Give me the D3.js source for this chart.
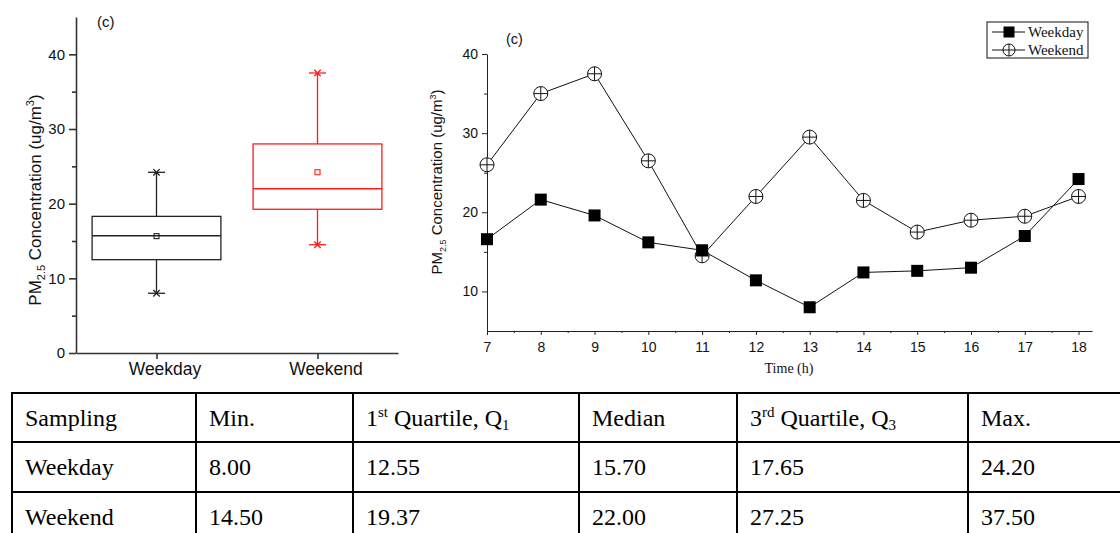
<!DOCTYPE html>
<html>
<head>
<meta charset="utf-8">
<script src="https://cdn.jsdelivr.net/npm/d3@7"></script>
<style>
  body { margin: 0; background: #fff; }
  svg { display: block; }
</style>
</head>
<body>
<svg id="fig" width="1120" height="533"></svg>
<script>
// Hourly PM2.5 concentration (ug/m3), 07:00 to 18:00
const hours = [7, 8, 9, 10, 11, 12, 13, 14, 15, 16, 17, 18];
const weekdayPM = [16.6, 21.6, 19.6, 16.2, 15.2, 11.4, 8.0, 12.4, 12.6, 13.0, 17.0, 24.2];
const weekendPM = [26.0, 35.0, 37.5, 26.5, 14.5, 22.0, 29.5, 21.5, 17.5, 19.0, 19.5, 22.0];

const groups = ["Weekday", "Weekend"];
const boxMajorTicks = [0, 10, 20, 30, 40];
const boxMinorTicks = [5, 15, 25, 35];
const lineMajorYTicks = [10, 20, 30, 40];
const lineMinorYTicks = [15, 25, 35];
const lineMajorXTicks = [7, 8, 9, 10, 11, 12, 13, 14, 15, 16, 17, 18];
const lineMinorXTicks = [7.5, 8.5, 9.5, 10.5, 11.5, 12.5, 13.5, 14.5, 15.5, 16.5, 17.5];

// Summary table: header cells as [text, role] runs, then the two rows
const tableHeader = [
  [["Sampling", ""]],
  [["Min.", ""]],
  [["1", ""], ["st", "sup"], [" Quartile, Q", ""], ["1", "sub"]],
  [["Median", ""]],
  [["3", ""], ["rd", "sup"], [" Quartile, Q", ""], ["3", "sub"]],
  [["Max.", ""]]
];
const tableWeekday = ["Weekday", "8.00", "12.55", "15.70", "17.65", "24.20"];
const tableWeekend = ["Weekend", "14.50", "19.37", "22.00", "27.25", "37.50"];

const svg = d3.select("#fig");
svg.append("rect").attr("width", 1120).attr("height", 533).attr("fill", "#fff");

const SANS = "'Liberation Sans', Arial, sans-serif";
const NARROW = "'Liberation Sans Narrow', 'Arial Narrow', 'Liberation Sans', Arial, sans-serif";
const SERIF = "'Liberation Serif', 'Times New Roman', serif";

function styleAxis(g, family, size, color, width) {
  g.attr("font-family", family).attr("font-size", size);
  g.selectAll("path.domain").attr("stroke", color).attr("stroke-width", width);
  g.selectAll(".tick line").attr("stroke", color).attr("stroke-width", width);
  g.selectAll(".tick text").attr("fill", "#111");
}

// PM2.5 axis title with subscript and superscript runs
function pmLabel(parent, x, y, size) {
  const t = parent.append("text")
    .attr("transform", `translate(${x},${y}) rotate(-90)`)
    .attr("text-anchor", "middle")
    .attr("font-family", SANS)
    .attr("font-size", size)
    .attr("fill", "#111");
  const small = Math.round(size * 0.62);
  t.append("tspan").text("PM");
  t.append("tspan").attr("font-size", small).attr("dy", size * 0.25).text("2.5");
  t.append("tspan").attr("dy", -size * 0.25).text(" Concentration (ug/m");
  t.append("tspan").attr("font-size", small).attr("dy", -size * 0.42).text("3");
  t.append("tspan").attr("dy", size * 0.42).text(")");
  return t;
}

/* ---------------- Box plot ---------------- */
const bp = svg.append("g");
const bx = d3.scalePoint().domain(groups).range([76, 398]).padding(0.5);
const by = d3.scaleLinear().domain([0, 45]).range([353, 17]);

const yAxisBox = bp.append("g").attr("transform", "translate(76,0)")
  .call(d3.axisLeft(by).tickValues(boxMajorTicks).tickSize(7).tickSizeOuter(0).tickPadding(4));
styleAxis(yAxisBox, SANS, 15, "#333", 1.6);
const yMinorBox = bp.append("g").attr("transform", "translate(76,0)")
  .call(d3.axisLeft(by).tickValues(boxMinorTicks).tickSize(4).tickFormat(""));
yMinorBox.select("path.domain").remove();
styleAxis(yMinorBox, SANS, 15, "#333", 1.6);

const xAxisBox = bp.append("g").attr("transform", "translate(0,353)")
  .call(d3.axisBottom(bx).tickSize(6).tickSizeOuter(0).tickPadding(4));
styleAxis(xAxisBox, SANS, 17.5, "#333", 1.6);
xAxisBox.selectAll(".tick text").attr("dx", 8);

pmLabel(bp, 41, 200, 17);
bp.append("text").attr("x", 97).attr("y", 27)
  .attr("font-family", SANS).attr("font-size", 15).attr("fill", "#111").text("(c)");

const seriesByGroup = { Weekday: weekdayPM, Weekend: weekendPM };
const groupColor = { Weekday: "#222", Weekend: "#ff1a1a" };

function boxStats(values) {
  const s = values.slice().sort(d3.ascending);
  const h = s.length >> 1;
  return {
    min: s[0],
    q1: d3.median(s.slice(0, h)),
    median: d3.median(s),
    q3: d3.median(s.slice(s.length - h)),
    max: s[s.length - 1],
    mean: d3.mean(s)
  };
}

groups.forEach(name => {
  const st = boxStats(seriesByGroup[name]);
  const cx = bx(name);
  const w = bx.step() * 0.8;
  const g = bp.append("g")
    .attr("stroke", groupColor[name]).attr("fill", "none").attr("stroke-width", 1.3);

  g.append("line").attr("x1", cx).attr("x2", cx).attr("y1", by(st.q3)).attr("y2", by(st.max));
  g.append("line").attr("x1", cx).attr("x2", cx).attr("y1", by(st.q1)).attr("y2", by(st.min));
  [st.min, st.max].forEach(v => {
    g.append("line").attr("x1", cx - 8.5).attr("x2", cx + 8.5).attr("y1", by(v)).attr("y2", by(v));
    const yy = by(v), a = 3.2;
    g.append("path").attr("d", `M${cx - a},${yy - a}L${cx + a},${yy + a}M${cx - a},${yy + a}L${cx + a},${yy - a}`);
  });
  g.append("rect")
    .attr("x", cx - w / 2).attr("width", w)
    .attr("y", by(st.q3)).attr("height", by(st.q1) - by(st.q3));
  g.append("line").attr("x1", cx - w / 2).attr("x2", cx + w / 2)
    .attr("y1", by(st.median)).attr("y2", by(st.median));
  g.append("rect").attr("x", cx - 2.5).attr("y", by(st.mean) - 2.5)
    .attr("width", 5).attr("height", 5).attr("stroke-width", 1.1);
});

/* ---------------- Hourly line chart ---------------- */
const lc = svg.append("g");
const lx = d3.scaleLinear().domain([7, 18.25]).range([487, 1092]);
const ly = d3.scaleLinear().domain([5, 40]).range([331, 54]);

const yAxisLine = lc.append("g").attr("transform", "translate(487,0)")
  .call(d3.axisLeft(ly).tickValues(lineMajorYTicks).tickSize(5).tickSizeOuter(0).tickPadding(4));
styleAxis(yAxisLine, NARROW, 14, "#222", 1);
const yMinorLine = lc.append("g").attr("transform", "translate(487,0)")
  .call(d3.axisLeft(ly).tickValues(lineMinorYTicks).tickSize(3).tickFormat(""));
yMinorLine.select("path.domain").remove();
styleAxis(yMinorLine, NARROW, 14, "#222", 1);

const xAxisLine = lc.append("g").attr("transform", "translate(0,331)")
  .call(d3.axisBottom(lx).tickValues(lineMajorXTicks).tickFormat(d3.format("d"))
    .tickSize(4).tickSizeOuter(0).tickPadding(7));
styleAxis(xAxisLine, NARROW, 14, "#222", 1);
const xMinorLine = lc.append("g").attr("transform", "translate(0,331)")
  .call(d3.axisBottom(lx).tickValues(lineMinorXTicks).tickSize(2).tickFormat(""));
xMinorLine.select("path.domain").remove();
styleAxis(xMinorLine, NARROW, 14, "#222", 1);

pmLabel(lc, 442, 182, 15);
lc.append("text").attr("x", 789).attr("y", 373).attr("text-anchor", "middle")
  .attr("font-family", SERIF).attr("font-size", 14).attr("fill", "#111").text("Time (h)");
lc.append("text").attr("x", 506).attr("y", 44)
  .attr("font-family", SANS).attr("font-size", 14.5).attr("fill", "#111").text("(c)");

const line = d3.line().x(d => lx(d[0])).y(d => ly(d[1]));
const weekdayPts = d3.zip(hours, weekdayPM);
const weekendPts = d3.zip(hours, weekendPM);

lc.append("path").datum(weekendPts).attr("d", line)
  .attr("fill", "none").attr("stroke", "#111").attr("stroke-width", 1);
lc.append("path").datum(weekdayPts).attr("d", line)
  .attr("fill", "none").attr("stroke", "#111").attr("stroke-width", 1);

function squareMarker(g, x, y, s) {
  g.append("rect").attr("x", x - s / 2).attr("y", y - s / 2)
    .attr("width", s).attr("height", s).attr("fill", "#000");
}
function circlePlusMarker(g, x, y, r) {
  g.append("circle").attr("cx", x).attr("cy", y).attr("r", r)
    .attr("fill", "#fff").attr("stroke", "#111").attr("stroke-width", 1);
  g.append("path").attr("d", `M${x - r},${y}H${x + r}M${x},${y - r}V${y + r}`)
    .attr("stroke", "#111").attr("stroke-width", 1);
}

weekendPts.forEach(d => circlePlusMarker(lc, lx(d[0]), ly(d[1]), 7));
weekdayPts.forEach(d => squareMarker(lc, lx(d[0]), ly(d[1]), 12));

// Legend
const lg = lc.append("g");
lg.append("rect").attr("x", 987).attr("y", 22).attr("width", 101).attr("height", 36)
  .attr("fill", "#fff").attr("stroke", "#111").attr("stroke-width", 1);
[["Weekday", 32], ["Weekend", 50]].forEach(([name, yy]) => {
  lg.append("line").attr("x1", 992).attr("x2", 1025).attr("y1", yy).attr("y2", yy)
    .attr("stroke", "#111").attr("stroke-width", 1);
  if (name === "Weekday") squareMarker(lg, 1009, yy, 11);
  else circlePlusMarker(lg, 1009, yy, 6);
  lg.append("text").attr("x", 1028).attr("y", yy).attr("dy", "0.34em")
    .attr("font-family", SERIF).attr("font-size", 15).attr("fill", "#111").text(name);
});

/* ---------------- Summary table ---------------- */
const tb = svg.append("g");
const colEdges = [12, 196, 353, 579, 737, 968];
const rowTops = [393, 442, 492];
const tableRight = 1122, tableBottom = 541;

rowTops.forEach(y => tb.append("line").attr("x1", colEdges[0] - 1).attr("x2", tableRight)
  .attr("y1", y).attr("y2", y).attr("stroke", "#000").attr("stroke-width", 2));
tb.append("line").attr("x1", colEdges[0] - 1).attr("x2", tableRight)
  .attr("y1", tableBottom).attr("y2", tableBottom).attr("stroke", "#000").attr("stroke-width", 2);
colEdges.forEach(x => tb.append("line").attr("x1", x).attr("x2", x)
  .attr("y1", rowTops[0]).attr("y2", tableBottom).attr("stroke", "#000").attr("stroke-width", 2));

const cellText = (x, y) => tb.append("text").attr("x", x).attr("y", y)
  .attr("font-family", SERIF).attr("font-size", 24).attr("fill", "#000");

tableHeader.forEach((runs, i) => {
  const t = cellText(colEdges[i] + 13, rowTops[0] + 33);
  let shift = 0;
  runs.forEach(([txt, role]) => {
    const target = role === "sup" ? -9 : role === "sub" ? 4 : 0;
    const ts = t.append("tspan").attr("dy", target - shift).text(txt);
    if (role) ts.attr("font-size", 15);
    shift = target;
  });
});
[tableWeekday, tableWeekend].forEach((row, r) => {
  row.forEach((txt, i) => cellText(colEdges[i] + 13, rowTops[r + 1] + 33).text(txt));
});
</script>
</body>
</html>
